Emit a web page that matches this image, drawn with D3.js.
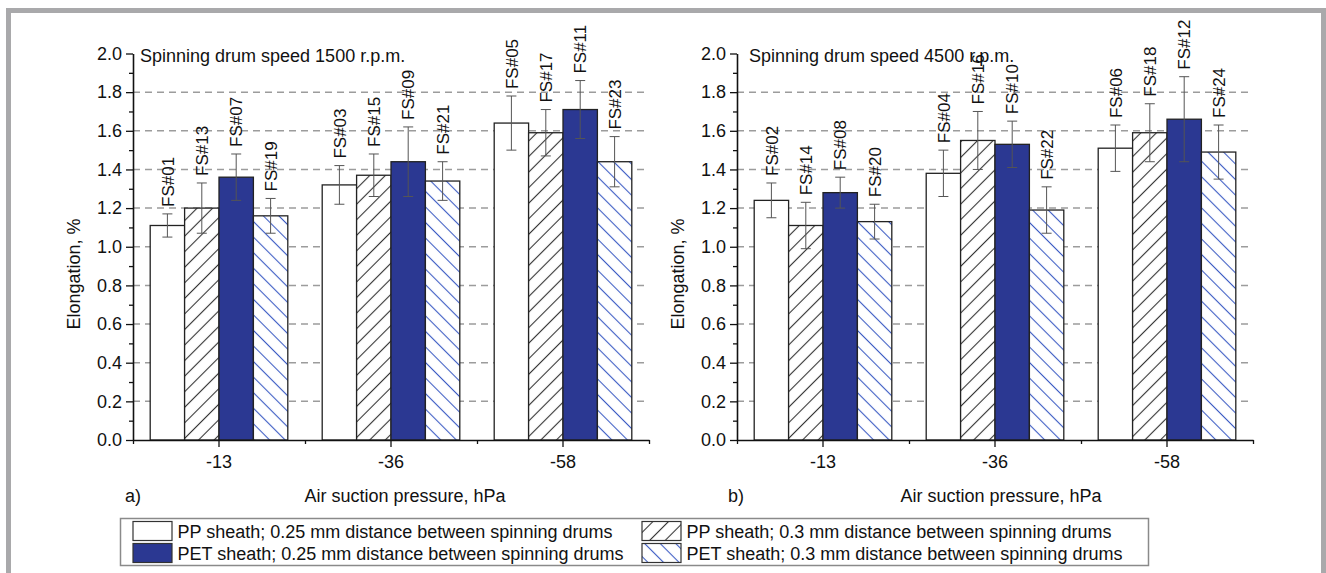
<!DOCTYPE html>
<html>
<head>
<meta charset="utf-8">
<script src="https://cdn.jsdelivr.net/npm/d3@7"></script>
<style>
	body { margin: 0; background: #fff; }
	svg text { font-family: "Liberation Sans", Arial, sans-serif; fill: #111; }
</style>
</head>
<body>
<div id="chart"></div>
<script>

////////////////////
// DATA

// Air suction pressure groups (x axis) and the four sample series inside each group
const pressures = ["-13", "-36", "-58"];
const seriesKeys = ["pp025", "pp03", "pet025", "pet03"];
const seriesNames = [
	"PP sheath; 0.25 mm distance between spinning drums",
	"PP sheath; 0.3 mm distance between spinning drums",
	"PET sheath; 0.25 mm distance between spinning drums",
	"PET sheath; 0.3 mm distance between spinning drums"
];
const yTicks = [0, 0.2, 0.4, 0.6, 0.8, 1.0, 1.2, 1.4, 1.6, 1.8, 2.0];
const yMinorTicks = [0.1, 0.3, 0.5, 0.7, 0.9, 1.1, 1.3, 1.5, 1.7, 1.9];

// Spinning drum speed 1500 r.p.m. (one row per pressure, one column per series)
const labels1500 = [
	["FS#01", "FS#13", "FS#07", "FS#19"],
	["FS#03", "FS#15", "FS#09", "FS#21"],
	["FS#05", "FS#17", "FS#11", "FS#23"]
];
const means1500 = [
	[1.11, 1.20, 1.36, 1.16],
	[1.32, 1.37, 1.44, 1.34],
	[1.64, 1.59, 1.71, 1.44]
];
const errors1500 = [
	[0.06, 0.13, 0.12, 0.09],
	[0.10, 0.11, 0.18, 0.10],
	[0.14, 0.12, 0.15, 0.13]
];

// Spinning drum speed 4500 r.p.m.
const labels4500 = [
	["FS#02", "FS#14", "FS#08", "FS#20"],
	["FS#04", "FS#16", "FS#10", "FS#22"],
	["FS#06", "FS#18", "FS#12", "FS#24"]
];
const means4500 = [
	[1.24, 1.11, 1.28, 1.13],
	[1.38, 1.55, 1.53, 1.19],
	[1.51, 1.59, 1.66, 1.49]
];
const errors4500 = [
	[0.09, 0.12, 0.08, 0.09],
	[0.12, 0.15, 0.12, 0.12],
	[0.12, 0.15, 0.22, 0.14]
];

////////////////////
// MAIN SVG

const W = 1326, H = 573;
const plotW = 516;
const blue = "#2b3892";

const svg = d3.select("#chart")
	.append("svg")
		.attr("width", W)
		.attr("height", H);

// Gray frame around the figure (bottom edge is cut off)
svg.append("rect")
	.attr("x", 8.5).attr("y", 10.5)
	.attr("width", 1315).attr("height", 620)
	.attr("fill", "none")
	.attr("stroke", "#a9a9ab")
	.attr("stroke-width", 5);

// Hatch patterns for the 0.3 mm series
const defs = svg.append("defs");
function addHatch(id, angle, color) {
	const p = defs.append("pattern")
		.attr("id", id)
		.attr("patternUnits", "userSpaceOnUse")
		.attr("width", 11).attr("height", 11)
		.attr("patternTransform", "rotate(" + angle + ")");
	p.append("rect").attr("width", 11).attr("height", 11).attr("fill", "#fff");
	p.append("line")
		.attr("x1", 5.5).attr("y1", 0).attr("x2", 5.5).attr("y2", 11)
		.attr("stroke", color).attr("stroke-width", 1.1);
}
addHatch("hatchBlack", 45, "#333");
addHatch("hatchBlue", -45, "#3d5cc4");

const fillScale = d3.scaleOrdinal()
	.domain(seriesKeys)
	.range(["#fff", "url(#hatchBlack)", blue, "url(#hatchBlue)"]);

////////////////////
// PANEL

function drawPanel(cfg) {
	const g = svg.append("g").attr("transform", "translate(" + cfg.left + ",0)");

	const x0 = d3.scaleBand()
		.domain(pressures)
		.range([0, plotW])
		.paddingInner(0.2)
		.paddingOuter(0.1);
	const x1 = d3.scaleBand()
		.domain(seriesKeys)
		.range([0, x0.bandwidth()]);
	const y = d3.scaleLinear()
		.domain([0, 2])
		.range([440, 53.5]);

	// dashed horizontal grid
	g.append("g")
		.selectAll("line")
		.data(yTicks.filter(v => v > 0 && v < 2))
		.enter()
		.append("line")
		.attr("x1", 0).attr("x2", plotW)
		.attr("y1", d => y(d)).attr("y2", d => y(d))
		.attr("stroke", "#9c9c9c")
		.attr("stroke-width", 1.5)
		.attr("stroke-dasharray", "7,5");

	// flatten values into one record per bar
	const rows = [];
	pressures.forEach((p, i) => {
		seriesKeys.forEach((k, j) => {
			rows.push({ p: p, k: k, v: cfg.means[i][j], e: cfg.errors[i][j], label: cfg.labels[i][j] });
		});
	});
	const cx = d => x0(d.p) + x1(d.k) + x1.bandwidth() / 2;

	// bars
	g.append("g")
		.selectAll("rect")
		.data(rows)
		.enter()
		.append("rect")
		.attr("x", d => x0(d.p) + x1(d.k))
		.attr("y", d => y(d.v))
		.attr("width", x1.bandwidth())
		.attr("height", d => y(0) - y(d.v))
		.attr("fill", d => fillScale(d.k))
		.attr("stroke", "#222")
		.attr("stroke-width", 1.3);

	// error bars
	const eb = g.append("g")
		.attr("stroke", "#555")
		.attr("stroke-width", 1)
		.selectAll("g")
		.data(rows)
		.enter()
		.append("g");
	eb.append("line")
		.attr("x1", cx).attr("x2", cx)
		.attr("y1", d => y(d.v - d.e)).attr("y2", d => y(d.v + d.e));
	eb.append("line")
		.attr("x1", d => cx(d) - 5).attr("x2", d => cx(d) + 5)
		.attr("y1", d => y(d.v + d.e)).attr("y2", d => y(d.v + d.e));
	eb.append("line")
		.attr("x1", d => cx(d) - 5).attr("x2", d => cx(d) + 5)
		.attr("y1", d => y(d.v - d.e)).attr("y2", d => y(d.v - d.e));

	// sample labels, rotated, above the error bars
	g.append("g")
		.selectAll("text")
		.data(rows)
		.enter()
		.append("text")
		.attr("x", cx)
		.attr("y", d => y(d.v + d.e) - 7)
		.attr("dy", "0.36em")
		.attr("transform", d => "rotate(-90," + cx(d) + "," + (y(d.v + d.e) - 7) + ")")
		.attr("font-size", 17)
		.text(d => d.label);

	// Y axis (major + minor ticks)
	const yAxis = g.append("g")
		.call(d3.axisLeft(y).tickValues(yTicks).tickSize(7).tickSizeOuter(0).tickPadding(4)
			.tickFormat(d3.format(".1f")));
	g.append("g")
		.call(d3.axisLeft(y).tickValues(yMinorTicks).tickSize(4).tickFormat(""))
		.select(".domain").remove();

	// X axis (ticks at group centres + minor ticks at group borders)
	const xAxis = g.append("g")
		.attr("transform", "translate(0,440)")
		.call(d3.axisBottom(x0).tickSize(7).tickSizeOuter(0).tickPadding(8));
	const xBorders = d3.scaleLinear().domain([0, pressures.length]).range([0, plotW]);
	g.append("g")
		.attr("transform", "translate(0,440)")
		.call(d3.axisBottom(xBorders).tickValues(d3.range(pressures.length + 1)).tickSize(4).tickFormat(""))
		.select(".domain").remove();

	g.selectAll(".domain").attr("stroke", "#111").attr("stroke-width", 1.6);
	g.selectAll(".tick line").attr("stroke", "#111").attr("stroke-width", 1.3);
	g.selectAll(".tick text")
		.attr("font-size", 18)
		.attr("font-family", "'Liberation Sans', Arial, sans-serif")
		.attr("fill", "#111");

	// Panel title
	g.append("text")
		.attr("x", cfg.titleDx)
		.attr("y", 62)
		.attr("font-size", 18)
		.text(cfg.title);

	// Y axis label
	g.append("text")
		.attr("transform", "translate(-53,274) rotate(-90)")
		.attr("text-anchor", "middle")
		.attr("font-size", 18)
		.text("Elongation, %");

	// X axis label and panel letter
	g.append("text")
		.attr("x", plotW / 2 + cfg.xLabelDx)
		.attr("y", 502)
		.attr("text-anchor", "middle")
		.attr("font-size", 18)
		.text("Air suction pressure, hPa");
	g.append("text")
		.attr("x", cfg.letterDx)
		.attr("y", 502)
		.attr("font-size", 18)
		.text(cfg.letter);
}

drawPanel({
	left: 133, title: "Spinning drum speed 1500 r.p.m.", titleDx: 7,
	letter: "a)", letterDx: -8, xLabelDx: 14,
	labels: labels1500, means: means1500, errors: errors1500
});
drawPanel({
	left: 737, title: "Spinning drum speed 4500 r.p.m.", titleDx: 12,
	letter: "b)", letterDx: -9, xLabelDx: 6,
	labels: labels4500, means: means4500, errors: errors4500
});

////////////////////
// LEGEND

const legend = svg.append("g");
legend.append("rect")
	.attr("x", 120.5).attr("y", 518.5)
	.attr("width", 1028).attr("height", 47)
	.attr("fill", "#fff")
	.attr("stroke", "#8a8a8a")
	.attr("stroke-width", 1.5);

// legend order: column 1 = 0.25 mm, column 2 = 0.3 mm
const legendCol = d3.scaleOrdinal().domain(seriesKeys).range([133, 642, 133, 642]);
const legendRow = d3.scaleOrdinal().domain(seriesKeys).range([521.5, 521.5, 543.5, 543.5]);

const items = legend.selectAll("g.item")
	.data(seriesKeys)
	.enter()
	.append("g")
	.attr("class", "item");
items.append("rect")
	.attr("x", d => legendCol(d))
	.attr("y", d => legendRow(d))
	.attr("width", 39).attr("height", 19)
	.attr("fill", d => fillScale(d))
	.attr("stroke", "#333")
	.attr("stroke-width", 1.2);
items.append("text")
	.attr("x", d => legendCol(d) + 44.5)
	.attr("y", d => legendRow(d) + 16.5)
	.attr("font-size", 18)
	.text((d, i) => seriesNames[i]);

</script>
</body>
</html>
